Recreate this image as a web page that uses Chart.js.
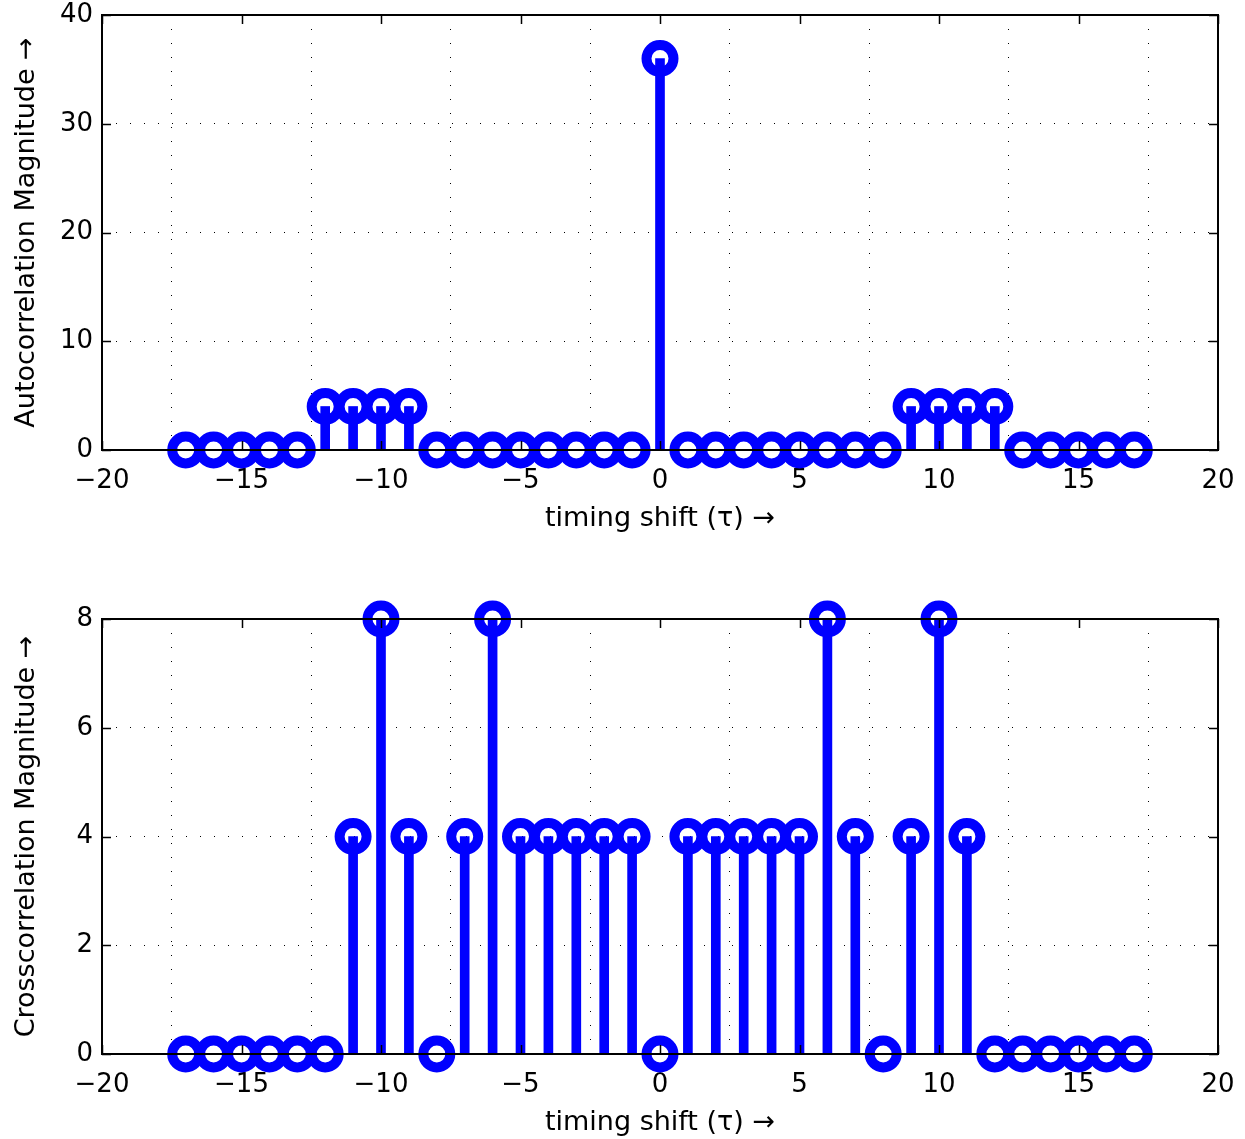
<!DOCTYPE html>
<html>
<head>
<meta charset="utf-8">
<script src="https://cdn.jsdelivr.net/npm/chart.js@4.4.0/dist/chart.umd.min.js"></script>
<style>
  body { margin: 0; background: #fff; }
  #wrap { position: relative; width: 1245px; height: 1139px; }
  canvas { position: absolute; left: 0; }
</style>
</head>
<body>
<div id="wrap">
  <canvas id="autoChart" width="1245" height="570" style="top:0"></canvas>
  <canvas id="crossChart" width="1245" height="569" style="top:570px"></canvas>
</div>
<script>
// lags -17..17
const lags = [-17, -16, -15, -14, -13, -12, -11, -10, -9, -8, -7, -6, -5, -4, -3, -2, -1,
  0, 1, 2, 3, 4, 5, 6, 7, 8, 9, 10, 11, 12, 13, 14, 15, 16, 17];
const autoVals = [0, 0, 0, 0, 0, 4, 4, 4, 4, 0, 0, 0, 0, 0, 0, 0, 0,
  36, 0, 0, 0, 0, 0, 0, 0, 0, 4, 4, 4, 4, 0, 0, 0, 0, 0];
const crossVals = [0, 0, 0, 0, 0, 0, 4, 8, 4, 0, 4, 8, 4, 4, 4, 4, 4,
  0, 4, 4, 4, 4, 4, 8, 4, 0, 4, 8, 4, 0, 0, 0, 0, 0, 0];
const xTickVals = [-20, -15, -10, -5, 0, 5, 10, 15, 20];
const autoTickVals = [0, 10, 20, 30, 40];
const crossTickVals = [0, 2, 4, 6, 8];

const BLUE = '#0000ff';
const TICK_FONT = { family: "'DejaVu Sans', sans-serif", size: 26 };
const TITLE_FONT = { family: "'DejaVu Sans', sans-serif", size: 27 };

// MATLAB style box with inward ticks, drawn on top of the data
const boxPlugin = {
  id: 'box',
  afterDraw(chart) {
    const { ctx, chartArea: a, scales } = chart;
    ctx.save();
    ctx.strokeStyle = '#000';
    ctx.lineWidth = 1.5;
    ctx.beginPath();
    scales.x.ticks.forEach(t => {
      const px = Math.round(scales.x.getPixelForValue(t.value)) + 0.5;
      ctx.moveTo(px, a.bottom); ctx.lineTo(px, a.bottom - 9);
      ctx.moveTo(px, a.top); ctx.lineTo(px, a.top + 9);
    });
    scales.y.ticks.forEach(t => {
      const py = Math.round(scales.y.getPixelForValue(t.value)) + 0.5;
      ctx.moveTo(a.left, py); ctx.lineTo(a.left + 9, py);
      ctx.moveTo(a.right, py); ctx.lineTo(a.right - 9, py);
    });
    ctx.stroke();
    ctx.lineWidth = 2;
    ctx.strokeRect(a.left, a.top, a.right - a.left, a.bottom - a.top);
    ctx.restore();
  }
};

const fmt = v => String(v).replace('-', '\u2212');

function stemChart(id, vals, yTicks, yMax, yTitle, pad) {
  const pts = lags.map((x, i) => ({ x: x, y: vals[i] }));
  return new Chart(document.getElementById(id), {
    type: 'scatter',
    data: {
      datasets: [
        {
          type: 'bar',
          data: pts,
          backgroundColor: BLUE,
          borderWidth: 0,
          barThickness: 9,
          order: 0
        },
        {
          type: 'scatter',
          data: pts,
          pointRadius: 13.5,
          pointBorderWidth: 10,
          pointBorderColor: BLUE,
          pointBackgroundColor: 'rgba(0,0,0,0)',
          clip: false,
          order: 1
        }
      ]
    },
    options: {
      responsive: false,
      animation: false,
      events: [],
      layout: { padding: pad, autoPadding: false },
      plugins: { legend: { display: false }, tooltip: { enabled: false } },
      scales: {
        x: {
          type: 'linear',
          min: -20, max: 20,
          offset: false,
          afterBuildTicks: s => { s.ticks = xTickVals.map(v => ({ value: v })); },
          afterFit: s => { s.height = 85; s.paddingLeft = 0; s.paddingRight = 0; },
          ticks: { color: '#000', font: TICK_FONT, padding: 16, callback: fmt, maxRotation: 0 },
          grid: { color: '#000', lineWidth: 1, drawTicks: false },
          border: { display: false, dash: [1, 13] },
          title: { display: true, text: 'timing shift (\u03c4) \u2192', color: '#000', font: TITLE_FONT, padding: { top: 3, bottom: 0 } }
        },
        y: {
          min: 0, max: yMax,
          afterBuildTicks: s => { s.ticks = yTicks.map(v => ({ value: v })); },
          afterFit: s => { s.width = 102; s.paddingTop = 0; s.paddingBottom = 0; },
          ticks: { color: '#000', font: TICK_FONT, padding: 9, callback: fmt },
          grid: { color: '#000', lineWidth: 1, drawTicks: false },
          border: { display: false, dash: [1, 13] },
          title: { display: true, text: yTitle, color: '#000', font: TITLE_FONT, padding: { top: 11, bottom: 0 } }
        }
      }
    },
    plugins: [boxPlugin]
  });
}

stemChart('autoChart', autoVals, autoTickVals, 40, 'Autocorrelation Magnitude \u2192',
  { top: 15, right: 27, bottom: 35, left: 0 });
stemChart('crossChart', crossVals, crossTickVals, 8, 'Crosscorrelation Magnitude \u2192',
  { top: 49, right: 27, bottom: 0, left: 0 });
</script>
</body>
</html>
